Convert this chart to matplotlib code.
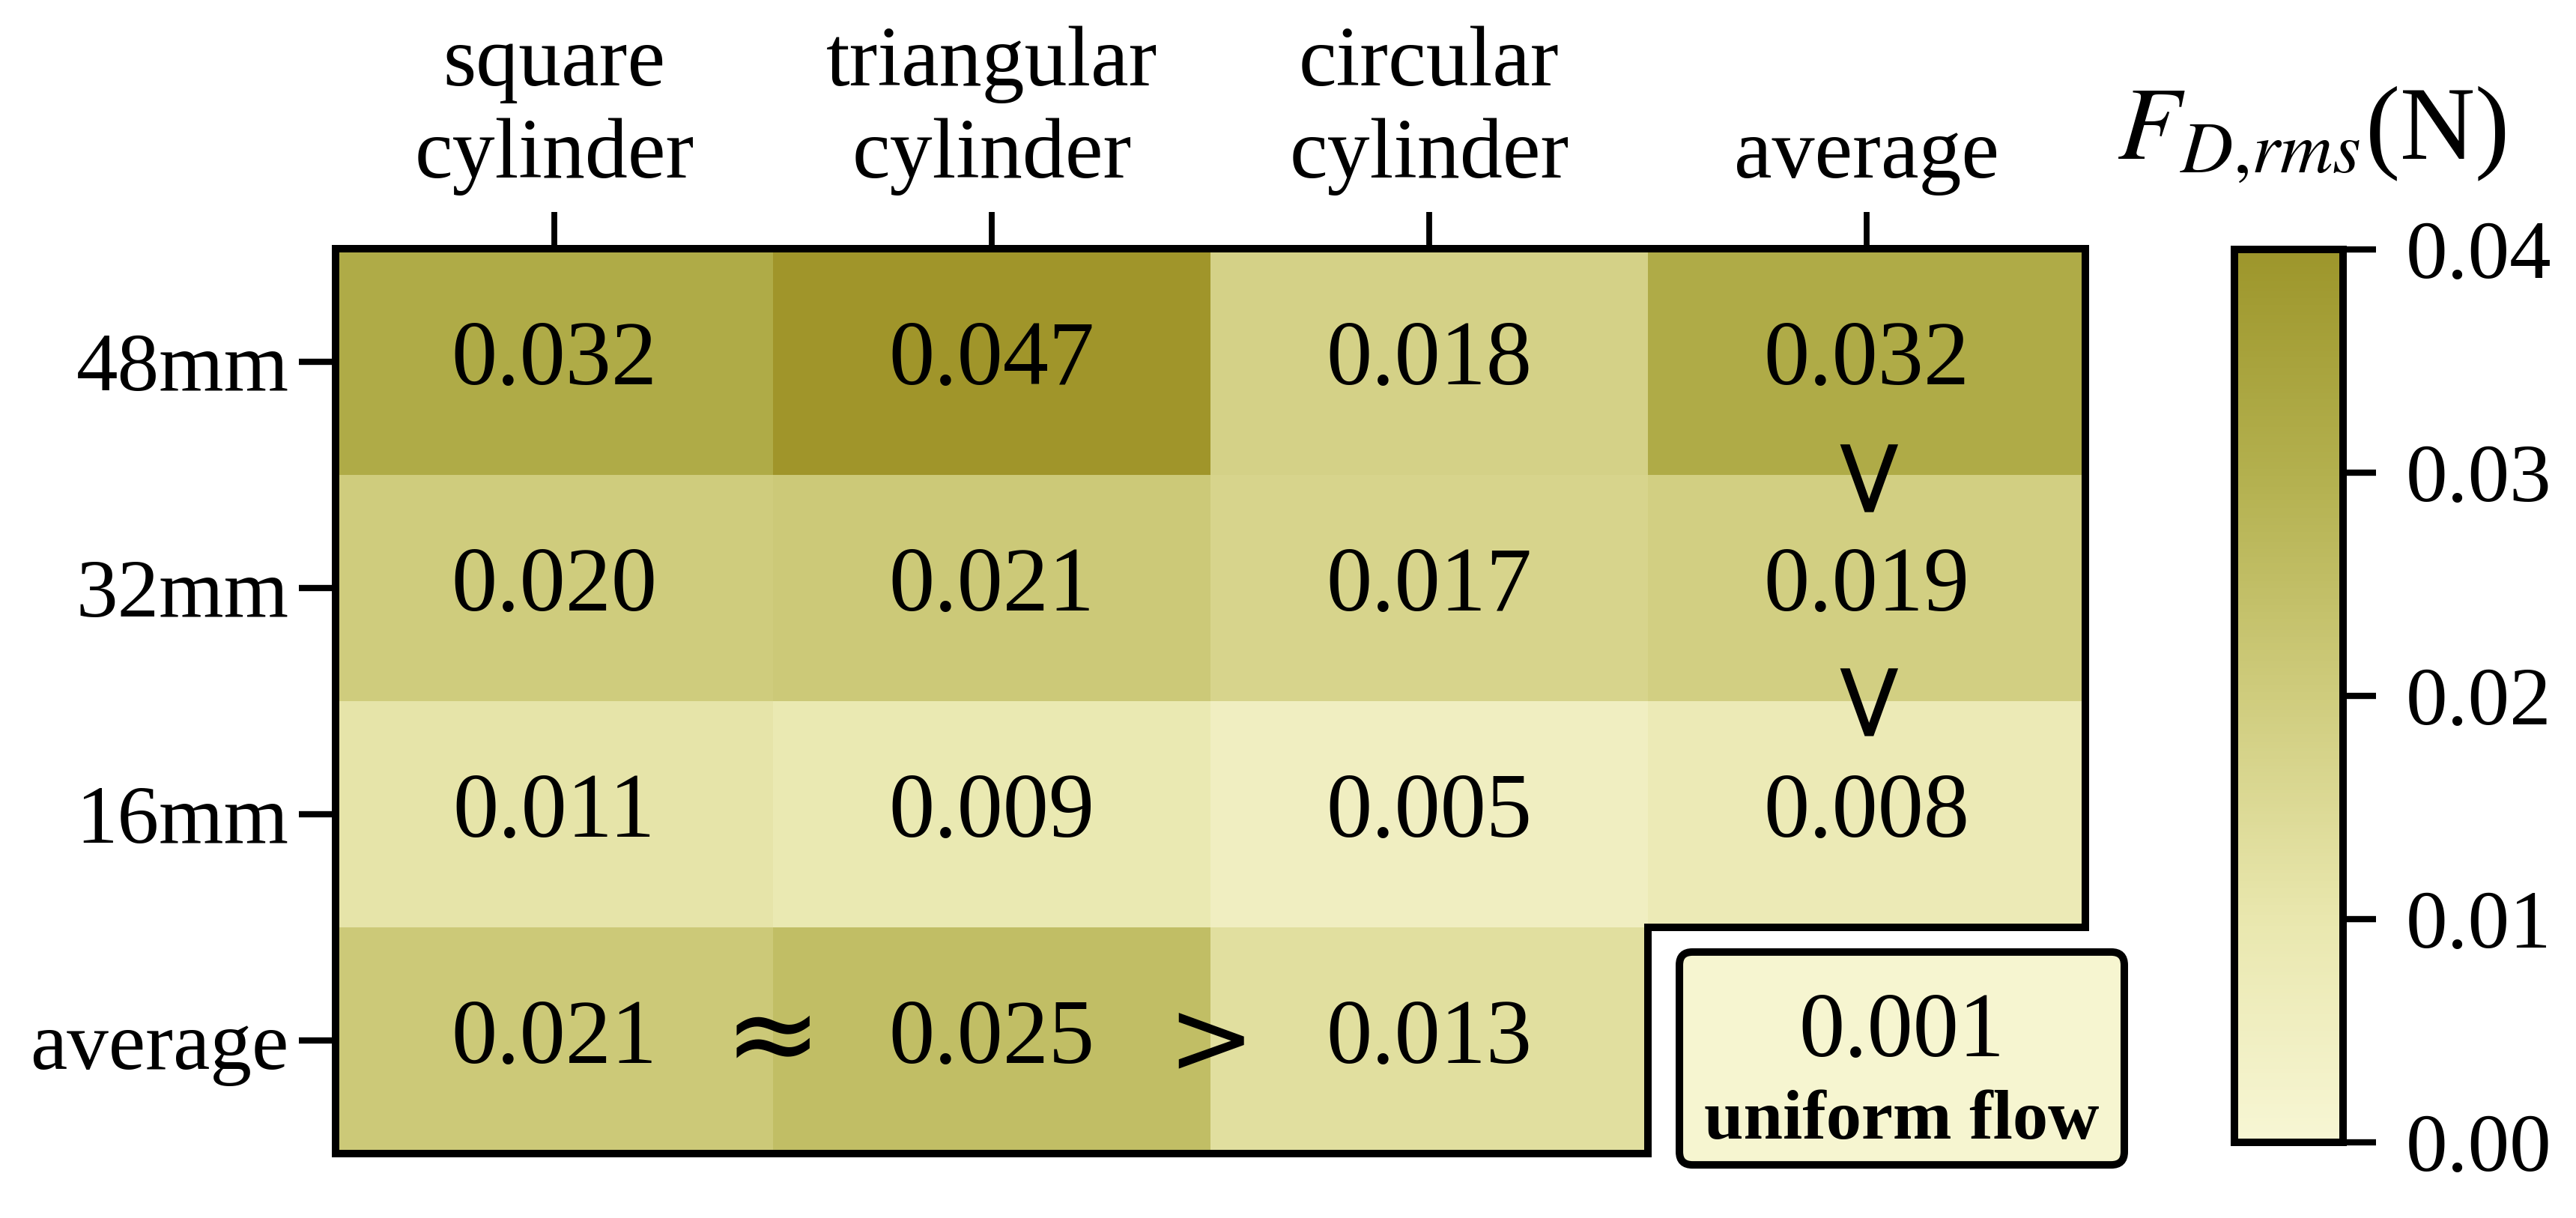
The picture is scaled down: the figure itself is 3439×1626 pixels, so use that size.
import numpy as np
import matplotlib
matplotlib.use("Agg")
import matplotlib.pyplot as plt
from matplotlib.colors import LinearSegmentedColormap, Normalize
from matplotlib.patches import FancyBboxPatch, Polygon

plt.rcParams['font.family'] = ['Liberation Serif', 'DejaVu Serif']
plt.rcParams['mathtext.fontset'] = 'stix'

# ---------------- data ----------------
row_labels = ['48mm', '32mm', '16mm', 'average']
col_labels = ['square\ncylinder', 'triangular\ncylinder', 'circular\ncylinder', 'average']
row_48 = [0.032, 0.047, 0.018, 0.032]
row_32 = [0.020, 0.021, 0.017, 0.019]
row_16 = [0.011, 0.009, 0.005, 0.008]
row_avg = [0.021, 0.025, 0.013, np.nan]
uniform_flow = 0.001
cbar_ticks = [0.00, 0.01, 0.02, 0.03, 0.04]

values = np.ma.masked_invalid(np.array([row_48, row_32, row_16, row_avg]))

# ---------------- colours ----------------
cmap = LinearSegmentedColormap.from_list(
    'olive', [(0.0, '#f7f6d4'), (0.25, '#e9e7ae'), (0.5, '#cfcc7d'),
              (0.75, '#b3b04e'), (1.0, '#9d962b')])
cmap.set_over('#a0952a')
cmap.set_bad((1, 1, 1, 0))
norm = Normalize(vmin=0.0, vmax=0.04)

W, H = 3439, 1626
fig = plt.figure(figsize=(W / 200, H / 200), dpi=200)

def fx(px):
    return px / W

def fy(py):
    return 1 - py / H

ax = fig.add_axes([fx(448), fy(1540), fx(2784) - fx(448), fy(332) - fy(1540)])
ax.set_facecolor('none')
mesh = ax.pcolormesh(np.arange(5), np.arange(5), values, cmap=cmap, norm=norm,
                     shading='flat')
ax.set_xlim(0, 4)
ax.set_ylim(4, 0)
for s in ax.spines.values():
    s.set_visible(False)

lw = 3.6
outline = Polygon([(0, 0), (4, 0), (4, 3), (3, 3), (3, 4), (0, 4)], closed=True,
                  fill=False, edgecolor='black', linewidth=lw, clip_on=False,
                  joinstyle='miter', zorder=5)
ax.add_patch(outline)

ax.set_xticks(np.arange(4) + 0.5)
ax.set_xticklabels(col_labels, fontsize=41, linespacing=1.25)
ax.set_yticks(np.arange(4) + 0.5)
ax.set_yticklabels(row_labels, fontsize=40)
ax.xaxis.tick_top()
ax.tick_params(axis='x', length=17.5, width=2.8, pad=8, top=True, bottom=False)
ax.tick_params(axis='y', length=17.5, width=3.0, pad=5)

# cell numbers
for i in range(values.shape[0]):
    for j in range(values.shape[1]):
        v = values[i, j]
        if np.ma.is_masked(v):
            continue
        ax.text(j + 0.5, i + 0.5, f"{v:.3f}", ha='center', va='center', fontsize=44)

# comparison symbols
sym_kw = dict(family='DejaVu Sans', ha='center', va='center', color='black')
ax.text(1.0, 3.5, '\u2248', fontsize=56, **sym_kw)
ax.text(2.0, 3.52, '>', fontsize=50, **sym_kw)
ax.text(3.47, 1.06, '>', fontsize=52, rotation=-90, **sym_kw)
ax.text(3.47, 2.05, '>', fontsize=52, rotation=-90, **sym_kw)

# uniform flow box
bx0, bx1 = 3.072, 4.089
by0, by1 = 3.109, 4.050
box = FancyBboxPatch((bx0, by0), bx1 - bx0, by1 - by0,
                     boxstyle='round,pad=0,rounding_size=0.03',
                     facecolor=cmap(norm(uniform_flow)), edgecolor='black',
                     linewidth=lw, clip_on=False, zorder=4, mutation_aspect=1.9)
ax.add_patch(box)
ax.text((bx0 + bx1) / 2, 3.47, f"{uniform_flow:.3f}", ha='center', va='center',
        fontsize=44, clip_on=False, zorder=6)
ax.text((bx0 + bx1) / 2, 3.86, 'uniform flow', ha='center', va='center',
        fontsize=34, fontweight='bold', clip_on=False, zorder=6)

# colorbar
cax = fig.add_axes([fx(2983), fy(1525), fx(3128) - fx(2983), fy(333) - fy(1525)])
cb = fig.colorbar(mesh, cax=cax, ticks=cbar_ticks, extend='neither')
cb.ax.set_yticklabels([f"{t:.2f}" for t in cbar_ticks], fontsize=40)
cb.outline.set_linewidth(lw)
cb.ax.tick_params(length=16, width=3.0, pad=14)
fig.text(fx(3086), fy(212), r'$F_{D{,}rms}$(N)', ha='center', va='baseline',
         fontsize=50)

fig.savefig('out.png', dpi=200, facecolor='white')
